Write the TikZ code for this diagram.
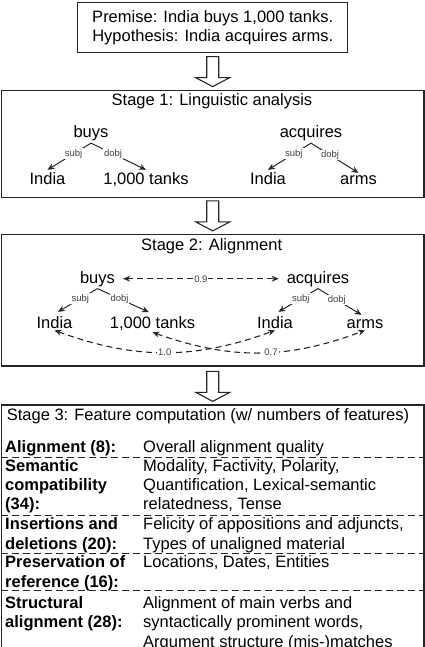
\documentclass[tikz,border=0pt]{standalone}
\usepackage{fontspec}
\setmainfont{Liberation Sans}
\usetikzlibrary{arrows.meta,calc}
\begin{document}
\begin{tikzpicture}[x=1pt,y=-1pt,
  box/.style={draw=black!85, line width=1.2pt, inner sep=0pt},
  word/.style={anchor=base, inner sep=2pt, font=\fontsize{16.5}{19.5}\selectfont},
  cell/.style={anchor=base west, inner sep=0pt, font=\fontsize{16.5}{19.5}\selectfont},
  hcell/.style={cell, font=\fontsize{16.5}{19.5}\selectfont\bfseries},
  elabel/.style={font=\fontsize{9.5}{10}\selectfont, fill=white, inner sep=1pt, text=black!75},
  tree/.style={-{Stealth[length=7pt,width=6pt]}, line width=1pt, draw=black!85},
  alignarrow/.style={{Stealth[length=7pt,width=6pt]}-{Stealth[length=7pt,width=6pt]}, dash pattern=on 6pt off 4pt, line width=1.1pt, draw=black!85},
  sep/.style={dash pattern=on 7pt off 4pt, line width=1pt, draw=black!85},
  harrow/.pic={\draw[line width=1.1pt, draw=black!85, fill=white] (-6,0) -- (6,0) -- (6,21) -- (17,21) -- (0,30) -- (-17,21) -- (-6,21) -- cycle;}
]
\useasboundingbox (0,0) rectangle (425,647);

% Premise box
\node[box, minimum width=270pt, minimum height=49.5pt, align=center,
      font=\fontsize{16.5}{19.5}\selectfont] (premise) at (212.7,27.6)
  {Premise: India buys 1,000 tanks.\\Hypothesis: India acquires arms.};

% Stage boxes
\node[box, minimum width=422.5pt, minimum height=107pt] (s1) at (212.75,143.8) {};
\node[box, minimum width=422.5pt, minimum height=131.7pt] (s2) at (212.75,300.2) {};
\node[box, minimum width=422.5pt, minimum height=260pt] (s3) at (212.75,535) {};

% Hollow arrows
\path ($(premise.south)+(0,3.7)$) pic{harrow};
\path ($(s1.south)+(0,3)$) pic{harrow};
\path ($(s2.south)+(0,4.7)$) pic{harrow};

% Stage 1
\node[word] (t1) at (212,105.7) {Stage 1: Linguistic analysis};
\node[word] (b1) at (91,137.5) {buys};
\node[word] (i1) at (47.5,184) {India};
\node[word] (k1) at (146,184) {1,000 tanks};
\node[word] (a1) at (311,137.5) {acquires};
\node[word] (i1r) at (268,184) {India};
\node[word] (r1) at (358.5,184) {arms};
\draw[tree] (b1.south) -- node[elabel, pos=0.4]{subj} (i1.north);
\draw[tree] (b1.south) -- node[elabel, pos=0.4]{dobj} (k1.north);
\draw[tree] (a1.south) -- node[elabel, pos=0.4]{subj} (i1r.north);
\draw[tree] (a1.south) -- node[elabel, pos=0.4]{dobj} (r1.north);

% Stage 2
\node[word] (t2) at (211.7,250.3) {Stage 2: Alignment};
\node[word] (b2) at (97.5,283) {buys};
\node[word] (a2) at (318,283) {acquires};
\node[word] (i2) at (54.5,328) {India};
\node[word] (k2) at (152.5,328) {1,000 tanks};
\node[word] (i2r) at (275,328) {India};
\node[word] (r2) at (365,328) {arms};
\draw[tree, shorten >=4pt] (b2.south) -- node[elabel, pos=0.4]{subj} (i2.north);
\draw[tree, shorten >=4pt] (b2.south) -- node[elabel, pos=0.4]{dobj} (k2.north);
\draw[tree, shorten >=4pt] (a2.south) -- node[elabel, pos=0.4]{subj} (i2r.north);
\draw[tree, shorten >=4pt] (a2.south) -- node[elabel, pos=0.4]{dobj} (r2.north);
\draw[alignarrow, shorten <=6pt, shorten >=6pt] (b2.east) -- node[elabel]{0.9} (a2.west);
\draw[alignarrow] (i2.south) to[bend right=20] node[elabel]{1.0} (i2r.south);
\draw[alignarrow] (k2.south) to[bend right=20] node[elabel, pos=0.56]{0.7} (r2.south);

% Stage 3
\node[word] (t3) at (208,420) {Stage 3: Feature computation (w/ numbers of features)};

\node[hcell] (h1) at (5,452) {Alignment (8):};
\node[cell] (d1) at (143,452) {Overall alignment quality};
\draw[sep] (s3.west |- 0,457.5) -- (s3.east |- 0,457.5);

\node[hcell] (h2a) at (5,471) {Semantic};
\node[hcell] (h2b) at (5,490.3) {compatibility};
\node[hcell] (h2c) at (5,509.6) {(34):};
\node[cell] (d2a) at (143,471) {Modality, Factivity, Polarity,};
\node[cell] (d2b) at (143,490.3) {Quantification, Lexical-semantic};
\node[cell] (d2c) at (143,509.6) {relatedness, Tense};
\draw[sep] (s3.west |- 0,515.5) -- (s3.east |- 0,515.5);

\node[hcell] (h3a) at (5,529.3) {Insertions and};
\node[hcell] (h3b) at (5,549) {deletions (20):};
\node[cell] (d3a) at (143,529.3) {Felicity of appositions and adjuncts,};
\node[cell] (d3b) at (143,549) {Types of unaligned material};
\draw[sep] (s3.west |- 0,553.3) -- (s3.east |- 0,553.3);

\node[hcell] (h4a) at (5,567.5) {Preservation of};
\node[hcell] (h4b) at (5,587) {reference (16):};
\node[cell] (d4a) at (143,567.5) {Locations, Dates, Entities};
\draw[sep] (s3.west |- 0,590) -- (s3.east |- 0,590);

\node[hcell] (h5a) at (5,608) {Structural};
\node[hcell] (h5b) at (5,627.5) {alignment (28):};
\node[cell] (d5a) at (143,608) {Alignment of main verbs and};
\node[cell] (d5b) at (143,627.5) {syntactically prominent words,};
\node[cell] (d5c) at (143,647) {Argument structure (mis-)matches};
\end{tikzpicture}
\end{document}
